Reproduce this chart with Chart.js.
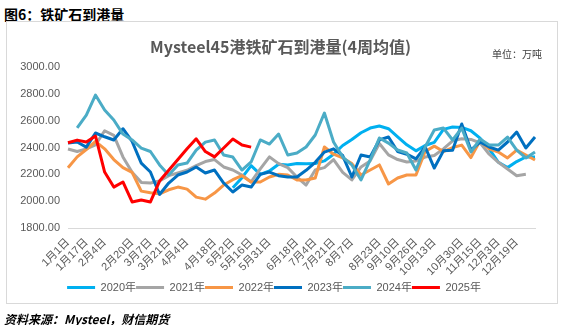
<!DOCTYPE html>
<html>
<head>
<meta charset="utf-8">
<script src="https://cdn.jsdelivr.net/npm/chart.js@4.4.1/dist/chart.umd.min.js"></script>
<style>
  body { margin: 0; width: 577px; height: 325px; background: #fff; position: relative; overflow: hidden; }
  #cap { position: absolute; left: 4px; top: 4px; line-height: 1; font: bold 14px "Noto Sans CJK SC"; color: #000; }
  #box { position: absolute; left: 6px; top: 21px; width: 550px; height: 281px; border: 1px solid #D9D9D9; pointer-events: none; }
  #wrap { position: absolute; left: 7px; top: 22px; width: 549px; height: 281px; }
  #title { position: absolute; left: 0; top: 34px; width: 561px; text-align: center; line-height: 1; font: bold 16px "Noto Sans CJK SC"; color: #595959; }
  #unit { position: absolute; left: 492px; top: 46px; line-height: 1; font: 10px "Noto Sans CJK SC"; color: #404040; }
  #src { position: absolute; left: 4px; top: 310px; line-height: 1; font: italic bold 12px "Noto Sans CJK SC"; color: #000; }
</style>
</head>
<body>
<div id="cap">图6：铁矿石到港量</div>
<div id="wrap"><canvas id="portChart" width="549" height="281"></canvas></div>
<div id="box"></div>
<div id="title">Mysteel45港铁矿石到港量(4周均值)</div>
<div id="unit">单位：万吨</div>
<div id="src">资料来源：Mysteel，财信期货</div>
<script>
// categorías (semanas) del eje X
const weeks = ['1月1日','1月9日','1月17日','1月26日','2月4日','2月9日','2月14日','2月20日','2月28日','3月7日',
  '3月14日','3月21日','3月28日','4月4日','4月11日','4月15日','4月18日','4月25日','5月2日','5月9日',
  '5月16日','5月23日','5月31日','6月6日','6月13日','6月18日','6月27日','7月4日','7月11日','7月21日',
  '7月28日','8月7日','8月14日','8月19日','8月23日','8月30日','9月10日','9月19日','9月26日','10月5日',
  '10月13日','10月20日','10月25日','10月30日','11月8日','11月15日','11月22日','12月3日','12月10日','12月19日',
  '12月26日','12月31日'];

// etiquetas visibles en el eje X
const tickLabels = ['1月1日','1月17日','2月4日','2月20日','3月7日','3月21日','4月4日','4月18日','5月2日','5月16日',
  '5月31日','6月18日','7月4日','7月21日','8月7日','8月23日','9月10日','9月26日','10月13日','10月30日',
  '11月15日','12月3日','12月19日'];

const years = ['2020年','2021年','2022年','2023年','2024年','2025年'];

const data2020 = [null,null,null,null,null,null,null,null,null,null,
  null,null,null,null,null,null,null,null,2100,2175,
  2265,2200,2225,2275,2270,2280,2278,2280,2300,2350,
  2415,2460,2510,2545,2560,2540,2480,2420,2375,2415,
  2438,2535,2553,2550,2525,2470,2390,2290,2250,2295,
  2329,2329];
const data2021 = [2389,2370,2390,2420,2525,2490,2330,2215,2140,2135,
  2150,2190,2210,2230,2265,2295,2310,2255,2232,2195,
  2143,2240,2330,2280,2250,2180,2120,2232,2250,2310,
  2215,2158,2255,2300,2430,2345,2310,2292,2300,2329,
  2340,2390,2450,2465,2460,2435,2350,2290,2240,2190,
  2200,null];
const data2022 = [2249,2330,2385,2445,2390,2310,2250,2215,2075,2062,
  2055,2085,2105,2090,2030,2015,2060,2120,2160,2190,
  2143,2143,2180,2200,2195,2158,2158,2173,2404,2350,
  2322,2280,2195,2232,2270,2128,2173,2195,2195,2370,
  2410,2370,2400,2418,2325,2450,2390,2366,2322,2381,
  2344,2307];
const data2023 = [2433,2441,2403,2508,2480,2456,2540,2445,2284,2217,
  2050,2135,2195,2217,2255,2210,2232,2135,2068,2120,
  2105,2200,2217,2190,2180,2180,2230,2290,2366,2390,
  2340,2180,2344,2329,2456,2478,2370,2350,2315,2404,
  2247,2375,2380,2575,2381,2441,2404,2381,2441,2515,
  2396,2478];
const data2024 = [null,2547,2642,2791,2679,2605,2500,2456,2396,2370,
  2270,2195,2270,2284,2381,2440,2456,2344,2329,2232,
  2292,2456,2426,2500,2344,2359,2404,2493,2657,2441,
  2329,2270,2158,2307,2471,2433,2381,2359,2232,2404,
  2530,2545,2456,2545,2366,2463,2418,2418,2478,2381,
  2322,2366];
const data2025 = [2435,2455,2441,2486,2217,2105,2143,1994,2008,1994,
  2150,2230,2310,2390,2465,2370,2330,2396,2463,2418,
  2403];

const yTicks = [1800, 2000, 2200, 2400, 2600, 2800, 3000];

const colors = ['#00B0F0', '#A5A5A5', '#F79646', '#0070C0', '#4BACC6', '#FF0000'];
const series = [data2020, data2021, data2022, data2023, data2024, data2025];

Chart.defaults.font.family = '"Liberation Sans", "Noto Sans CJK SC", sans-serif';
Chart.defaults.color = '#595959';

const datasets = series.map((d, i) => ({
  label: years[i],
  data: d,
  borderColor: colors[i],
  backgroundColor: colors[i],
  borderWidth: 3,
  pointRadius: 0,
  pointHoverRadius: 0,
  pointStyle: 'line',
  borderJoinStyle: 'round',
  tension: 0,
  fill: false,
  // la última serie se dibuja encima
  order: series.length - i
}));

new Chart(document.getElementById('portChart'), {
  type: 'line',
  data: { labels: weeks, datasets: datasets },
  options: {
    responsive: false,
    animation: false,
    layout: { padding: { left: 6, right: 21, top: 45, bottom: 0 } },
    plugins: {
      legend: {
        position: 'bottom',
        labels: {
          usePointStyle: true,
          pointStyleWidth: 28,
          padding: 0,
          color: '#595959',
          font: { size: 11 },
          sort: (a, b) => a.datasetIndex - b.datasetIndex
        }
      },
      tooltip: { enabled: false }
    },
    scales: {
      x: {
        grid: { display: false, drawTicks: false },
        border: { display: true, color: '#D9D9D9', width: 1 },
        ticks: {
          autoSkip: false,
          minRotation: 45,
          maxRotation: 45,
          padding: 8,
          color: '#595959',
          font: { size: 11 },
          callback: function(val) {
            const lab = this.getLabelForValue(val);
            return tickLabels.includes(lab) ? lab : '';
          }
        },
        afterFit: s => { s.height = 54; }
      },
      y: {
        min: yTicks[0],
        max: yTicks[yTicks.length - 1],
        grid: { display: false, drawTicks: false },
        border: { display: false },
        afterBuildTicks: s => { s.ticks = yTicks.map(v => ({ value: v })); },
        ticks: {
          padding: 8,
          color: '#595959',
          font: { size: 11 },
          callback: v => Number(v).toFixed(2)
        },
        afterFit: s => { s.width = 55; }
      }
    }
  }
});
</script>
</body>
</html>
